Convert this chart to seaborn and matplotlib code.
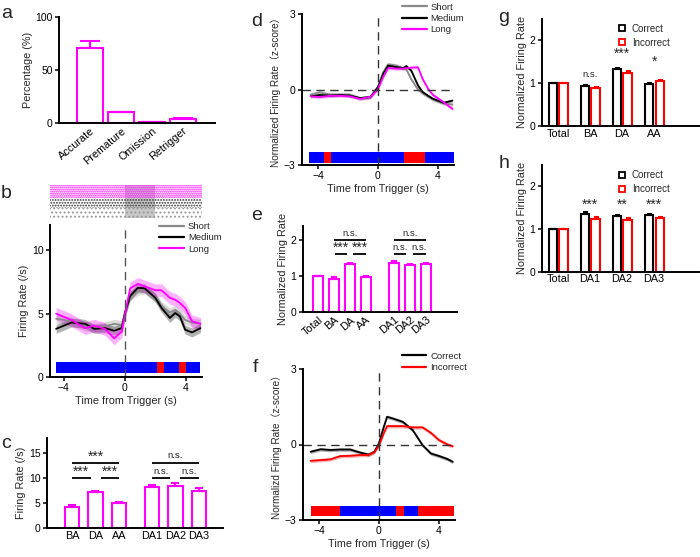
import numpy as np
import pandas as pd
import matplotlib
matplotlib.use('Agg')
import matplotlib.pyplot as plt
import seaborn as sns
from matplotlib.lines import Line2D
from matplotlib.patches import Rectangle

# ---------------- data ----------------
a_cats = ['Accurate', 'Premature', 'Omission', 'Retrigger']
a_vals = [71, 10, 0.5, 4]
a_err = [6.5, 0.7, 0.2, 0.6]

c_cats = ['BA', 'DA', 'AA', 'DA1', 'DA2', 'DA3']
c_vals = [4.3, 7.2, 5.0, 8.2, 8.5, 7.5]
c_err = [0.3, 0.3, 0.3, 0.5, 0.5, 0.5]

e_cats = ['Total', 'BA', 'DA', 'AA', 'DA1', 'DA2', 'DA3']
e_vals = [1.0, 0.93, 1.33, 0.98, 1.36, 1.30, 1.33]
e_err = [0.0, 0.03, 0.03, 0.02, 0.06, 0.03, 0.03]

g_cats = ['Total', 'BA', 'DA', 'AA']
g_correct = [1.0, 0.93, 1.33, 0.98]
g_incorrect = [1.0, 0.89, 1.24, 1.05]
g_err_c = [0.0, 0.03, 0.03, 0.02]
g_err_i = [0.0, 0.02, 0.03, 0.03]
g_sig = ['', 'n.s.', '***', '*']
g_sig_y = [0, 1.19, 1.69, 1.5]

h_cats = ['Total', 'DA1', 'DA2', 'DA3']
h_correct = [1.0, 1.35, 1.30, 1.33]
h_incorrect = [1.0, 1.23, 1.22, 1.25]
h_err_c = [0.0, 0.06, 0.03, 0.03]
h_err_i = [0.0, 0.04, 0.03, 0.03]
h_sig = ['', '***', '**', '***']
h_sig_y = [0, 1.56, 1.56, 1.56]

# panel b: firing rate (/s)
b_t = [-4.5, -3.5, -2.6, -2.0, -1.3, -0.7, -0.2, 0, 0.35, 0.85, 1.3, 2.0, 2.4, 2.95, 3.3, 3.6, 3.95, 4.4, 4.95]
b_short = [4.6, 4.4, 4.0, 3.9, 4.0, 4.2, 4.1, 5.0, 6.4, 6.8, 6.9, 6.3, 5.6, 5.1, 5.3, 5.0, 4.5, 4.3, 4.2]
b_medium = [3.8, 4.3, 4.2, 3.8, 3.86, 3.65, 3.86, 5.05, 6.4, 7.04, 7.0, 6.24, 5.45, 4.66, 5.05, 4.79, 3.73, 3.52, 3.86]
b_long = [5.0, 4.5, 3.86, 4.05, 3.8, 3.05, 3.6, 4.95, 7.0, 7.35, 7.15, 6.85, 6.85, 6.25, 6.1, 5.85, 5.45, 4.4, 4.2]
b_sem = {'Short': 0.35, 'Medium': 0.35, 'Long': 0.5}
b_sig_segments = [(-4.52, 2.12, 'blue'), (2.12, 2.56, 'red'), (2.56, 3.56, 'blue'), (3.56, 3.98, 'red'), (3.98, 4.92, 'blue')]

# panel d: normalized firing rate (z-score)
d_t = [-4.5, -3.9, -3.2, -2.5, -1.9, -1.2, -0.5, 0, 0.36, 0.69, 1.24, 1.69, 1.91, 2.24, 2.69, 3.0, 3.36, 3.7, 4.4, 5.0]
d_short = [-0.2, -0.12, -0.2, -0.2, -0.2, -0.35, -0.3, 0.1, 0.7, 1.0, 0.95, 0.85, 0.8, 0.4, 0.0, -0.15, -0.28, -0.4, -0.55, -0.6]
d_medium = [-0.27, -0.22, -0.24, -0.22, -0.24, -0.34, -0.3, 0.09, 0.62, 0.95, 0.89, 0.85, 0.93, 0.75, 0.16, -0.1, -0.25, -0.37, -0.53, -0.44]
d_long = [-0.27, -0.3, -0.25, -0.25, -0.27, -0.37, -0.3, 0.0, 0.5, 0.85, 0.83, 0.83, 0.85, 0.87, 0.88, 0.42, 0.03, -0.22, -0.5, -0.77]
d_sem = {'Short': 0.08, 'Medium': 0.06, 'Long': 0.06}
d_sig_segments = [(-4.6, -3.6, 'blue'), (-3.6, -3.13, 'red'), (-3.13, 1.73, 'blue'), (1.73, 3.13, 'red'), (3.13, 5.09, 'blue')]

# panel f
f_t = [-4.57, -3.9, -3.25, -2.58, -1.92, -1.26, -0.7, -0.3, 0, 0.33, 0.55, 0.95, 1.6, 2.27, 2.93, 3.49, 4.04, 4.6, 4.95]
f_correct = [-0.29, -0.19, -0.22, -0.2, -0.2, -0.32, -0.4, -0.29, 0.04, 0.7, 1.1, 1.03, 0.9, 0.57, -0.03, -0.36, -0.46, -0.58, -0.69]
f_incorrect = [-0.65, -0.62, -0.59, -0.46, -0.45, -0.42, -0.42, -0.3, -0.05, 0.45, 0.73, 0.73, 0.73, 0.68, 0.68, 0.46, 0.17, 0.0, -0.07]
f_sem = {'Correct': 0.07, 'Incorrect': 0.07}
f_sig_segments = [(-4.57, -2.63, 'red'), (-2.63, 1.17, 'blue'), (1.17, 1.66, 'red'), (1.66, 2.65, 'blue'), (2.65, 5.03, 'red')]

# ---------------- style ----------------
MAG = '#FF00FF'
RED = '#FF0000'
BLUE = '#0000FF'
GREY = '#8A8A8A'
sns.set_style('ticks')
plt.rcParams['font.family'] = ['Liberation Sans', 'Noto Sans CJK SC', 'DejaVu Sans']
plt.rcParams.update({
    'axes.linewidth': 1.4,
    'xtick.major.width': 1.1, 'ytick.major.width': 1.1,
    'xtick.major.size': 3, 'ytick.major.size': 3,
    'xtick.labelsize': 7.5, 'ytick.labelsize': 7.5,
    'xtick.major.pad': 1.5, 'ytick.major.pad': 1.5,
    'axes.labelsize': 7.8, 'axes.labelpad': 2,
    'hatch.linewidth': 0.9,
})

W, H = 700, 557
fig = plt.figure(figsize=(7, 5.57), dpi=100)


def add_ax(x0, y0, x1, y1):
    return fig.add_axes([x0 / W, 1 - y1 / H, (x1 - x0) / W, (y1 - y0) / H])


def clean(ax):
    sns.despine(ax=ax)
    ax.tick_params(direction='out', colors='black')
    for s in ax.spines.values():
        s.set_color('black')


def sig_bar(ax, x0, x1, y, txt):
    ax.plot([x0, x1], [y, y], color='black', lw=1.3, solid_capstyle='butt')
    if '*' in txt:
        ax.annotate(txt, ((x0 + x1) / 2, y), xytext=(0, 4.5), textcoords='offset points',
                    ha='center', va='center', fontsize=10)
    else:
        ax.annotate(txt, ((x0 + x1) / 2, y), xytext=(0, 1.8), textcoords='offset points',
                    ha='center', va='bottom', fontsize=6.8)


def colour(c):
    return {'blue': BLUE, 'red': RED}[c]


def strip(ax, segs, y0, hgt):
    ax.broken_barh([(s, e - s) for s, e, _ in segs], (y0, hgt),
                   facecolors=[colour(c) for _, _, c in segs], edgecolor='none')


def traces(ax, t, series, pal, sems):
    rows = []
    for name, vals in series.items():
        for tt, vv in zip(t, vals):
            rows.append((tt, vv, name))
    df = pd.DataFrame(rows, columns=['t', 'v', 'cond'])
    for name, vals in series.items():
        v = np.asarray(vals)
        ax.fill_between(t, v - sems[name], v + sems[name], color=pal[name], alpha=0.3, lw=0)
    sns.lineplot(data=df, x='t', y='v', hue='cond', palette=pal, hue_order=list(series.keys()),
                 errorbar=None, lw=1.3, ax=ax, legend=False)
    ax.set_xlabel('Time from Trigger (s)')


def line_legend(ax, labels, pal, anchor):
    handles = [Line2D([], [], color=pal[l], lw=1.6) for l in labels]
    ax.legend(handles, labels, loc='upper left', bbox_to_anchor=anchor, frameon=False,
              fontsize=6.8, handlelength=2.6, handletextpad=0.4, labelspacing=0.25,
              borderaxespad=0, borderpad=0)


# ---------------- panel a ----------------
ax = add_ax(59, 17, 215, 123)
sns.barplot(x=a_cats, y=a_vals, ax=ax, fill=False, color=MAG, width=0.84, linewidth=1.5)
ax.errorbar(range(len(a_cats)), a_vals, yerr=[np.zeros(len(a_vals)), a_err], fmt='none',
            ecolor=MAG, elinewidth=1.5, capsize=7, capthick=1.5)
ax.set_ylim(0, 100)
ax.set_xlim(-1.0, 4.05)
ax.set_yticks([0, 50, 100])
ax.set_ylabel('Percentage (%)')
ax.set_xticks(range(len(a_cats)))
ax.set_xticklabels(a_cats, rotation=40, ha='right', rotation_mode='anchor', fontsize=7.8)
ax.tick_params(axis='x', length=0, pad=2)
clean(ax)

# ---------------- panel b raster ----------------
axr = add_ax(50, 185, 202, 218)
axr.set_xlim(-4.9, 5.05)
axr.set_ylim(0, 1)
axr.axvspan(0, 2, color='#c8c8c8', lw=0)
axr.add_patch(Rectangle((-4.9, 0.62), 9.95, 0.38, facecolor='none', edgecolor=MAG, hatch='........', lw=0))
axr.add_patch(Rectangle((-4.9, 0.3), 9.95, 0.32, facecolor='none', edgecolor='#333333', hatch='......', lw=0))
axr.add_patch(Rectangle((-4.9, 0.0), 9.95, 0.3, facecolor='none', edgecolor='#999999', hatch='....', lw=0))
axr.axis('off')

# ---------------- panel b ----------------
ax = add_ax(50, 225, 202, 377)
pal_b = {'Short': GREY, 'Medium': 'black', 'Long': MAG}
traces(ax, b_t, {'Short': b_short, 'Medium': b_medium, 'Long': b_long}, pal_b, b_sem)
strip(ax, b_sig_segments, 0.35, 0.8)
ax.axvline(0, color='#555555', lw=1.0, ls=(0, (6, 4)))
ax.set_xlim(-4.9, 5.05)
ax.set_ylim(0, 12)
ax.set_yticks([0, 5, 10])
ax.set_xticks([-4, 0, 4])
ax.set_ylabel('Firing Rate (/s)')
line_legend(ax, ['Short', 'Medium', 'Long'], pal_b, (0.72, 1.02))
clean(ax)

# ---------------- panel c ----------------
c_pos = [0, 1, 2, 3.4, 4.4, 5.4]
ax = add_ax(47, 438, 223, 528)
sns.barplot(x=c_pos, y=c_vals, native_scale=True, ax=ax, fill=False, color=MAG, width=0.62, linewidth=1.5)
ax.errorbar(c_pos, c_vals, yerr=[np.zeros(len(c_vals)), c_err], fmt='none',
            ecolor=MAG, elinewidth=1.5, capsize=3, capthick=1.5)
sig_bar(ax, 0, 2, 13, '***')
sig_bar(ax, 0, 0.8, 10, '***')
sig_bar(ax, 1.22, 2, 10, '***')
sig_bar(ax, 3.4, 5.4, 13, 'n.s.')
sig_bar(ax, 3.4, 4.18, 10, 'n.s.')
sig_bar(ax, 4.6, 5.4, 10, 'n.s.')
ax.set_xlim(-1.06, 6.42)
ax.set_ylim(0, 18)
ax.set_yticks([0, 5, 10, 15])
ax.set_xticks(c_pos)
ax.set_xticklabels(c_cats, fontsize=7.8)
ax.tick_params(axis='x', length=0, pad=2)
ax.set_ylabel('Firing Rate (/s)')
clean(ax)

# ---------------- panel d ----------------
ax = add_ax(301.7, 14, 454, 165)
pal_d = {'Short': GREY, 'Medium': 'black', 'Long': MAG}
traces(ax, d_t, {'Short': d_short, 'Medium': d_medium, 'Long': d_long}, pal_d, d_sem)
strip(ax, d_sig_segments, -2.91, 0.42)
ax.axvline(0, color='#333333', lw=1.0, ls=(0, (6, 4)))
ax.axhline(0, color='#333333', lw=1.0, ls=(0, (6, 4)))
ax.set_xlim(-5.1, 5.1)
ax.set_ylim(-3, 3)
ax.set_yticks([-3, 0, 3])
ax.set_xticks([-4, 0, 4])
ax.set_ylabel('Normalized Firing Rate（z-score）', fontsize=7.2)
line_legend(ax, ['Short', 'Medium', 'Long'], pal_d, (0.66, 1.075))
clean(ax)

# ---------------- panel e ----------------
e_pos = [0, 1, 2, 3, 4.75, 5.75, 6.75]
ax = add_ax(302.7, 225.6, 457, 312)
sns.barplot(x=e_pos, y=e_vals, native_scale=True, ax=ax, fill=False, color=MAG, width=0.67, linewidth=1.5)
ax.errorbar(e_pos, e_vals, yerr=[np.zeros(len(e_vals)), e_err], fmt='none',
            ecolor=MAG, elinewidth=1.5, capsize=2.5, capthick=1.5)
sig_bar(ax, 1, 3, 2.0, 'n.s.')
sig_bar(ax, 1.06, 1.8, 1.6, '***')
sig_bar(ax, 2.2, 3.0, 1.6, '***')
sig_bar(ax, 4.75, 6.75, 2.0, 'n.s.')
sig_bar(ax, 4.75, 5.5, 1.6, 'n.s.')
sig_bar(ax, 5.9, 6.75, 1.6, 'n.s.')
ax.set_xlim(-0.96, 8.68)
ax.set_ylim(0, 2.4)
ax.set_yticks([0, 1, 2])
ax.set_xticks(e_pos)
ax.set_xticklabels(e_cats, rotation=40, ha='right', rotation_mode='anchor', fontsize=7.8)
ax.tick_params(axis='x', length=0, pad=2)
ax.set_ylabel('Normalized Firing Rate')
clean(ax)

# ---------------- panel f ----------------
ax = add_ax(302.7, 369, 455, 520)
pal_f = {'Correct': 'black', 'Incorrect': RED}
traces(ax, f_t, {'Correct': f_correct, 'Incorrect': f_incorrect}, pal_f, f_sem)
strip(ax, f_sig_segments, -2.85, 0.4)
ax.axvline(0, color='#333333', lw=1.0, ls=(0, (6, 4)))
ax.axhline(0, color='#333333', lw=1.0, ls=(0, (6, 4)))
ax.set_xlim(-5.1, 5.1)
ax.set_ylim(-3, 3)
ax.set_yticks([-3, 0, 3])
ax.set_xticks([-4, 0, 4])
ax.set_ylabel('Normalizd Firing Rate（z-score）', fontsize=7.2)
line_legend(ax, ['Correct', 'Incorrect'], pal_f, (0.65, 1.115))
clean(ax)


# ---------------- panels g / h ----------------
def grouped(ax, cats, corr, inc, err_c, err_i, sig, sig_y):
    df = pd.DataFrame({'region': cats * 2, 'val': corr + inc,
                       'cond': ['Correct'] * len(cats) + ['Incorrect'] * len(cats)})
    pal = {'Correct': 'black', 'Incorrect': RED}
    sns.barplot(data=df, x='region', y='val', hue='cond', palette=pal, fill=False,
                width=0.68, gap=0.25, linewidth=1.5, ax=ax, legend=False)
    bars = [p for p in ax.patches if isinstance(p, Rectangle)]
    errs = err_c + err_i
    cols = ['black'] * len(cats) + [RED] * len(cats)
    for p, e, c in zip(bars, errs, cols):
        cx = p.get_x() + p.get_width() / 2
        ax.errorbar([cx], [p.get_height()], yerr=[[0], [e]], fmt='none', ecolor=c,
                    elinewidth=1.5, capsize=1.8, capthick=1.5)
    for i, (s, y) in enumerate(zip(sig, sig_y)):
        if s:
            ax.text(i, y, s, ha='center', va='center', fontsize=10 if '*' in s else 6.8)
    ax.set_xlim(-0.51, 4.4)
    ax.set_ylim(0, 2.5)
    ax.set_yticks([0, 1, 2])
    ax.set_xlabel('')
    ax.set_ylabel('Normalized Firing Rate')
    ax.tick_params(axis='x', length=0, pad=2, labelsize=7.8)
    handles = [Line2D([], [], marker='s', ls='none', mfc='white', mec=pal[k], mew=1.3, ms=4)
               for k in ['Correct', 'Incorrect']]
    ax.legend(handles, ['Correct', 'Incorrect'], loc='upper left', bbox_to_anchor=(0.48, 0.95),
              frameon=False, fontsize=7, handlelength=1.0, handletextpad=0.5,
              labelspacing=0.4, borderaxespad=0, borderpad=0)
    clean(ax)


ax = add_ax(541.7, 18.5, 699, 126)
grouped(ax, g_cats, g_correct, g_incorrect, g_err_c, g_err_i, g_sig, g_sig_y)
ax = add_ax(541.7, 165, 699, 271.7)
grouped(ax, h_cats, h_correct, h_incorrect, h_err_c, h_err_i, h_sig, h_sig_y)

# ---------------- panel letters ----------------
for lab, (px, py) in {'a': (7, 13), 'b': (6, 194), 'c': (6, 443), 'd': (257, 22),
                      'e': (257, 216), 'f': (255, 368), 'g': (504, 17), 'h': (504, 163)}.items():
    fig.text(px / W, 1 - py / H, lab, fontsize=14, ha='center', va='center')

fig.savefig('out.png', dpi=100)
